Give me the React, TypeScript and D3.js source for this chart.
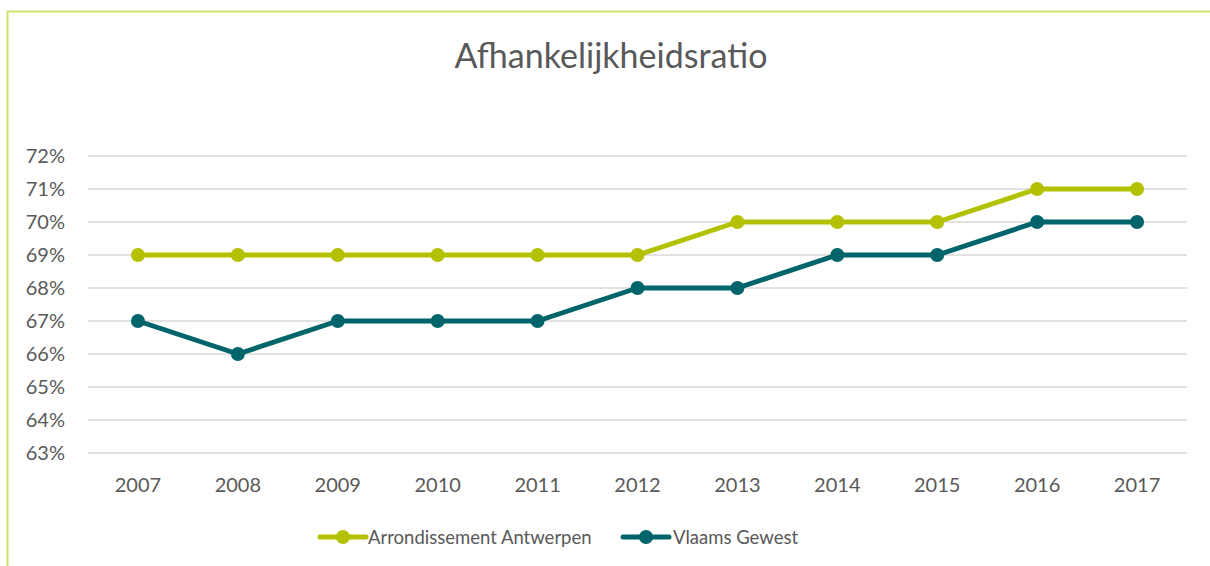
import React from 'react';
import * as d3 from 'd3';

const years = ['2007', '2008', '2009', '2010', '2011', '2012', '2013', '2014', '2015', '2016', '2017'];
const antwerpen = [69, 69, 69, 69, 69, 69, 70, 70, 70, 71, 71];
const vlaanderen = [67, 66, 67, 67, 67, 68, 68, 69, 69, 70, 70];
const yTicks = [63, 64, 65, 66, 67, 68, 69, 70, 71, 72];

const series = [
  { name: 'Arrondissement Antwerpen', values: antwerpen, color: '#b3c100' },
  { name: 'Vlaams Gewest', values: vlaanderen, color: '#00656b' },
];

const W = 1210, H = 566;
const font = 'Lato, "Open Sans", sans-serif';

export default function App() {
  const x = d3.scaleBand().domain(years).range([88, 1187]);
  const y = d3.scaleLinear().domain([63, 72]).range([453, 156]);
  const cx = (yr: string) => x(yr)! + x.bandwidth() / 2;
  const line = d3.line<number>()
    .x((_, i) => cx(years[i]))
    .y(d => y(d));

  // legend swatch start and text start
  const legend = [
    { x: 320, textX: 368 },
    { x: 623, textX: 673 },
  ];

  return (
    <svg width={W} height={H} style={{ position: 'absolute', left: 0, top: 0 }}>
      <rect x={0} y={0} width={W} height={H} fill="#fff" />
      <path d={`M7.5,${H} V11.5 H${W}`} fill="none" stroke="#d4e06b" strokeWidth={2} />
      <text x={611} y={68} textAnchor="middle" fontFamily={font} fontSize={34} fill="#595959">
        Afhankelijkheidsratio
      </text>
      {yTicks.map(t => (
        <g key={t}>
          <line x1={88} x2={1187} y1={y(t)} y2={y(t)} stroke="#d9d9d9" strokeWidth={1.5} />
          <text x={65} y={y(t) + 7} textAnchor="end" fontFamily={font} fontSize={20} fill="#595959">
            {t}%
          </text>
        </g>
      ))}
      {years.map(yr => (
        <text key={yr} x={cx(yr)} y={492} textAnchor="middle" fontFamily={font} fontSize={20} fill="#595959">
          {yr}
        </text>
      ))}
      {series.map(s => (
        <g key={s.name}>
          <path d={line(s.values)!} fill="none" stroke={s.color} strokeWidth={5} strokeLinejoin="round" />
          {s.values.map((v, i) => (
            <circle key={i} cx={cx(years[i])} cy={y(v)} r={7} fill={s.color} />
          ))}
        </g>
      ))}
      {series.map((s, i) => (
        <g key={'lg' + s.name}>
          <line x1={legend[i].x} x2={legend[i].x + 46} y1={537} y2={537} stroke={s.color} strokeWidth={5} strokeLinecap="round" />
          <circle cx={legend[i].x + 23} cy={537} r={7} fill={s.color} />
          <text x={legend[i].textX} y={544} fontFamily={font} fontSize={18.5} fill="#595959">
            {s.name}
          </text>
        </g>
      ))}
    </svg>
  );
}
